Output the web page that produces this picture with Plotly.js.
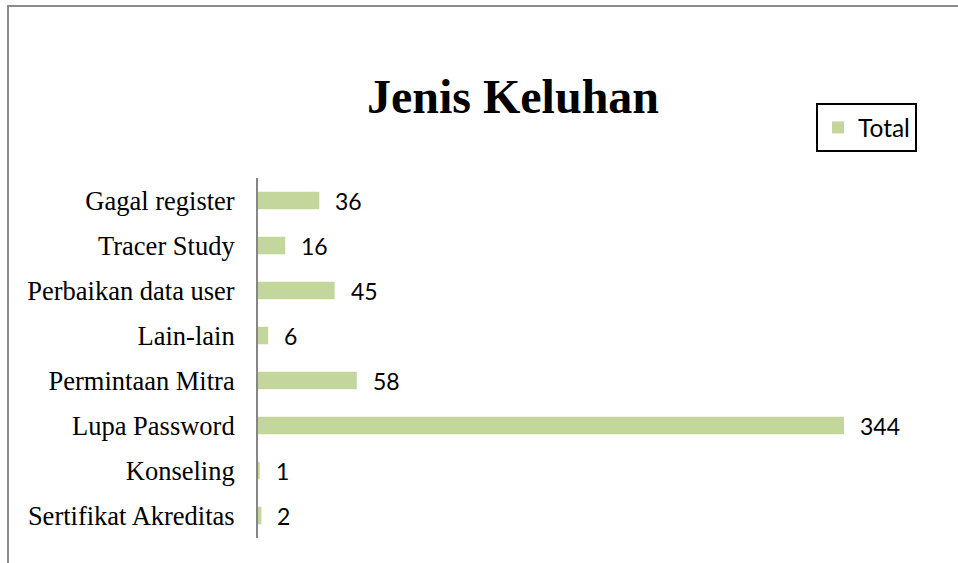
<!DOCTYPE html>
<html>
<head>
<meta charset="utf-8">
<script src="https://cdn.plot.ly/plotly-3.0.1.min.js"></script>
<style>
html,body{margin:0;padding:0;background:#fff;}
#chart{width:958px;height:563px;}
</style>
</head>
<body>
<div id="chart"></div>
<script>
var categories = ["Sertifikat Akreditas", "Konseling", "Lupa Password", "Permintaan Mitra", "Lain-lain", "Perbaikan data user", "Tracer Study", "Gagal register"];
var totals = [2, 1, 344, 58, 6, 45, 16, 36];
var seriesName = "Total";
var chartTitle = "Jenis Keluhan";

var W = 958, H = 563;
var mL = 258, mR = 19, mT = 178, mB = 25;
var pw = W - mL - mR, ph = H - mT - mB;
function px2x(px){ return (px - mL) / pw; }
function px2y(py){ return (H - mB - py) / ph; }

var trace = {
  type: "bar",
  orientation: "h",
  y: categories,
  x: totals,
  name: seriesName,
  marker: {color: "#c3d69b"},
  hoverinfo: "x+y"
};

var annotations = categories.map(function(c, i){
  return {
    x: totals[i], y: c, xref: "x", yref: "y",
    text: String(totals[i]), showarrow: false,
    xanchor: "left", yanchor: "middle", xshift: 14,
    font: {family: "Lato, 'Liberation Sans', sans-serif", size: 23, color: "#000"}
  };
});

var layout = {
  width: W, height: H,
  margin: {l: mL, r: mR, t: mT, b: mB, pad: 0, autoexpand: false},
  paper_bgcolor: "#fff", plot_bgcolor: "#fff",
  title: {
    text: "<b>" + chartTitle + "</b>",
    font: {family: "'Liberation Serif', 'Times New Roman', serif", size: 48, color: "#000"},
    xref: "container", yref: "container",
    x: 513 / W, xanchor: "center",
    y: 1 - 96 / H, yanchor: "middle"
  },
  bargap: 0.61,
  xaxis: {
    range: [0, pw / (586 / 344)],
    showgrid: false, zeroline: false, showline: false,
    showticklabels: false, ticks: "", fixedrange: true
  },
  yaxis: {
    type: "category",
    showgrid: false, zeroline: false,
    showline: true, linecolor: "#868686", linewidth: 2,
    ticks: "", ticklabelstandoff: 16,
    tickfont: {family: "'Liberation Serif', 'Times New Roman', serif", size: 26.5, color: "#000"},
    fixedrange: true
  },
  showlegend: true,
  legend: {
    xref: "container", yref: "container",
    x: 816 / W, y: 1 - 103 / H, xanchor: "left", yanchor: "top",
    bordercolor: "#000", borderwidth: 2, bgcolor: "#fff",
    font: {family: "Lato, 'Liberation Sans', sans-serif", size: 24.5, color: "#000"}
  },
  annotations: annotations,
  shapes: [
    {type: "line", xref: "paper", yref: "paper", x0: px2x(7), x1: px2x(958), y0: px2y(6), y1: px2y(6), line: {color: "#8c8c8c", width: 2}},
    {type: "line", xref: "paper", yref: "paper", x0: px2x(8), x1: px2x(8), y0: px2y(6), y1: px2y(563), line: {color: "#8c8c8c", width: 2}}
  ]
};

Plotly.newPlot("chart", [trace], layout, {displayModeBar: false, staticPlot: true});
</script>
</body>
</html>
